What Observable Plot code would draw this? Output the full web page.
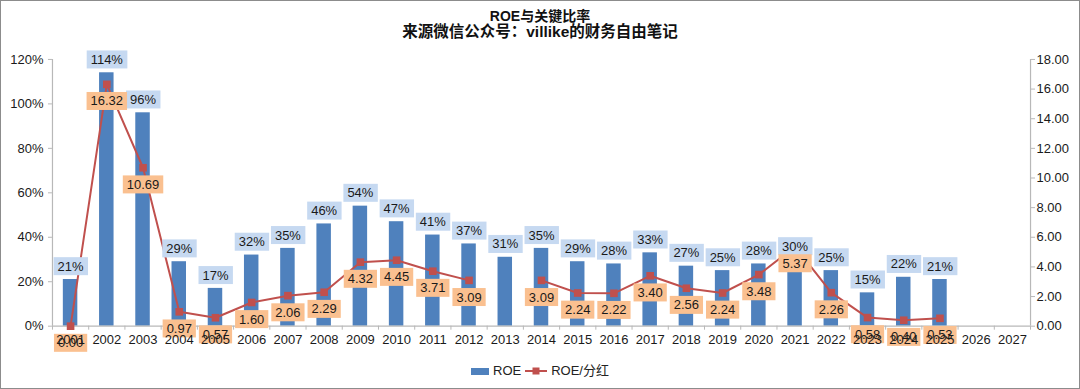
<!DOCTYPE html>
<html>
<head>
<meta charset="utf-8">
<script src="https://cdn.jsdelivr.net/npm/d3@7"></script>
<script src="https://cdn.jsdelivr.net/npm/@observablehq/plot@0.6"></script>
<style>
  html, body { margin: 0; padding: 0; background: #fff; }
  #wrap { position: relative; width: 1080px; height: 389px; box-sizing: border-box; border: 1px solid #8c8c8c; overflow: hidden;
          font-family: "Liberation Sans", Arial, "Noto Sans CJK SC", sans-serif; color: #1a1a1a; }
  #chart { position: absolute; left: -1px; top: -1px; }
  .ttl { position: absolute; left: -1px; width: 1080px; text-align: center; font-weight: bold; font-size: 14px; height: 18px; line-height: 18px; color: #111; }
  #legend { position: absolute; left: -1px; width: 1080px; top: 361px; height: 18px; line-height: 18px; display: flex; justify-content: center; align-items: center; font-size: 13px; color: #222; }
  #legend .sw { display: inline-block; width: 18px; height: 7px; background: #4f81bd; margin-right: 4px; }
  #legend svg { margin: 0 4px 0 4px; }
</style>
</head>
<body>
<div id="wrap">
  <div id="chart"></div>
  <div class="ttl" style="top:6px">ROE与关键比率</div>
  <div class="ttl" style="top:22px;font-size:15.5px">来源微信公众号：villike的财务自由笔记</div>
  <div id="legend">
    <span class="sw"></span><span>ROE</span>
    <svg width="22" height="10"><line x1="0" y1="5" x2="22" y2="5" stroke="#c0504d" stroke-width="2"/><rect x="7.5" y="1.5" width="7" height="7" fill="#c0504d"/></svg><span>ROE/分红</span>
  </div>
</div>
<script>
// ---- data ----
const years = [2001, 2002, 2003, 2004, 2005, 2006, 2007, 2008, 2009, 2010, 2011, 2012, 2013, 2014,
               2015, 2016, 2017, 2018, 2019, 2020, 2021, 2022, 2023, 2024, 2025, 2026, 2027];
const roe = [21, 114, 96, 29, 17, 32, 35, 46, 54, 47, 41, 37, 31, 35,
             29, 28, 33, 27, 25, 28, 30, 25, 15, 22, 21, null, null];
const roeDividend = [0.00, 16.32, 10.69, 0.97, 0.57, 1.60, 2.06, 2.29, 4.32, 4.45, 3.71, 3.09, null, 3.09,
                     2.24, 2.22, 3.40, 2.56, 2.24, 3.48, 5.37, 2.26, 0.58, 0.40, 0.53, null, null];
const leftTicks = [0, 20, 40, 60, 80, 100, 120];
const rightTicks = [0, 2, 4, 6, 8, 10, 12, 14, 16, 18];
const leftMax = 120, rightMax = 18;

// ---- build table ----
const toLeft = v => v * leftMax / rightMax;
const table = years.map((year, i) => ({
  year, roe: roe[i], ratio: roeDividend[i],
  ratioY: roeDividend[i] == null ? null : toLeft(roeDividend[i])
}));
const bars = table.filter(d => d.roe != null);
const pts = table.filter(d => d.ratio != null);
const boundaries = [years[0] - 0.5, ...years.map(y => y + 0.5)];

const axisGray = "#b8b8b8";
const txt = "#1a1a1a";

const plot = Plot.plot({
  width: 1080, height: 389,
  marginLeft: 52, marginRight: 49, marginTop: 59, marginBottom: 63,
  style: { fontFamily: '"Liberation Sans", Arial, "Noto Sans CJK SC", sans-serif', fontSize: "13px", background: "transparent", color: txt },
  x: { type: "linear", domain: [years[0] - 0.5, years[years.length - 1] + 0.5], label: null },
  y: { domain: [0, leftMax], label: null },
  marks: [
    Plot.rectY(bars, { x1: d => d.year - 0.2, x2: d => d.year + 0.2, y: "roe", fill: "#4f81bd" }),
    Plot.ruleY([0], { stroke: axisGray, strokeWidth: 1.2 }),
    Plot.ruleX([boundaries[0]], { y1: 0, y2: leftMax, stroke: axisGray, strokeWidth: 1.2 }),
    Plot.ruleX([boundaries[boundaries.length - 1]], { y1: 0, y2: leftMax, stroke: axisGray, strokeWidth: 1.2 }),
    Plot.axisX({ ticks: boundaries, tickSize: 4, tickFormat: () => "", stroke: axisGray, label: null }),
    Plot.axisY({ anchor: "left", ticks: leftTicks, tickSize: 4, tickPadding: 5, tickFormat: d => d + "%", stroke: axisGray, fill: txt, label: null }),
    Plot.axisY({ anchor: "right", ticks: rightTicks.map(toLeft), tickSize: 4, tickPadding: 2,
                 tickFormat: d => (d * rightMax / leftMax).toFixed(2), stroke: axisGray, fill: txt, label: null }),
    Plot.line(table, { x: "year", y: "ratioY", stroke: "#c0504d", strokeWidth: 2 }),
    Plot.dot(pts, { x: "year", y: "ratioY", symbol: "square", r: 4.3, fill: "#c0504d", stroke: "none" }),
    Plot.text(bars, { x: "year", y: "roe", text: d => d.roe + "%", dy: -13, fill: txt }),
    Plot.text(pts, { x: "year", y: "ratioY", text: d => d.ratio.toFixed(2), dy: 17, fill: txt }),
    Plot.axisX({ ticks: years, tickSize: 0, tickPadding: 9, tickFormat: d => String(d), fill: txt, label: null })
  ]
});
document.getElementById("chart").append(plot);

// label boxes behind data labels
const groups = plot.querySelectorAll('g[aria-label="text"]');
const boxColors = ["#c6d9f1", "#fac090"];
groups.forEach((g, gi) => {
  g.querySelectorAll("text").forEach(t => {
    const b = t.getBBox();
    const r = document.createElementNS("http://www.w3.org/2000/svg", "rect");
    r.setAttribute("x", b.x - 4);
    r.setAttribute("y", b.y - 1.5);
    r.setAttribute("width", b.width + 8);
    r.setAttribute("height", b.height + 3);
    r.setAttribute("fill", boxColors[gi % 2]);
    r.setAttribute("stroke", "none");
    const tf = t.getAttribute("transform");
    if (tf) r.setAttribute("transform", tf);
    g.insertBefore(r, t);
  });
});
</script>
</body>
</html>
